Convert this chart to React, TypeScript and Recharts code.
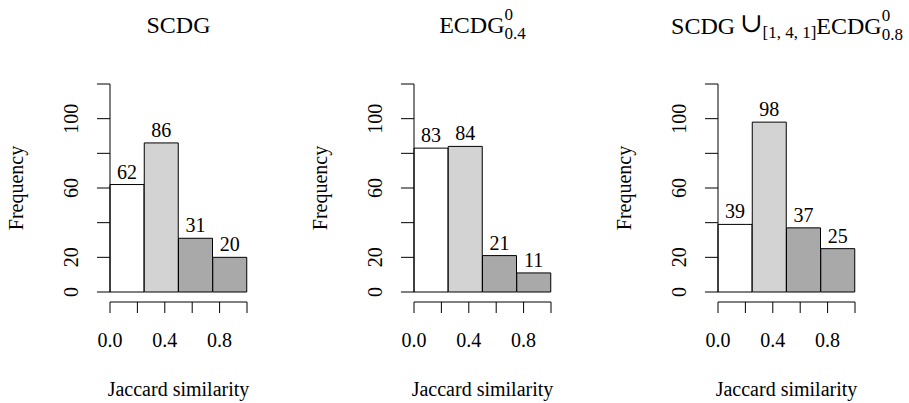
import React from "react";
import { Bar, BarChart, LabelList, XAxis, YAxis } from "recharts";

const binMids = [0.125, 0.375, 0.625, 0.875];
const scdg = [62, 86, 31, 20];
const ecdg = [83, 84, 21, 11];
const union = [39, 98, 37, 25];
const binColors = ["#FFFFFF", "#D3D3D3", "#A9A9A9", "#A9A9A9"];

const yTicks = [0, 20, 40, 60, 80, 100, 120];
const yLabelled = [0, 20, 60, 100];
const xTicks = [0, 0.2, 0.4, 0.6, 0.8, 1];
const xLabelled = [0, 0.4, 0.8];

const FONT = "'Liberation Serif', 'DejaVu Serif', serif";
const PANEL_W = 303;
const PANEL_H = 403;

function YTick(props: any) {
  const { x, y, payload } = props;
  if (!yLabelled.includes(payload.value)) return null;
  const tx = x - 17;
  return (
    <text
      x={tx}
      y={y}
      transform={`rotate(-90 ${tx} ${y})`}
      textAnchor="middle"
      fontFamily={FONT}
      fontSize={20}
      fill="#000"
    >
      {payload.value}
    </text>
  );
}

function XTick(props: any) {
  const { x, y, payload } = props;
  if (!xLabelled.some((v) => Math.abs(v - payload.value) < 1e-9)) return null;
  return (
    <text x={x} y={y + 32} textAnchor="middle" fontFamily={FONT} fontSize={20} fill="#000">
      {payload.value.toFixed(1)}
    </text>
  );
}

function Panel({ values, left }: { values: number[]; left: number }) {
  const data = binMids.map((mid, i) => ({ mid, count: values[i], fill: binColors[i] }));
  return (
    <div style={{ position: "absolute", left, top: 0 }}>
      <BarChart
        width={PANEL_W}
        height={PANEL_H}
        data={data}
        margin={{ top: 84, right: 56, bottom: 0, left: 0 }}
        barCategoryGap={0}
        barGap={0}
      >
        {/* empty axes used only as spacers so the axes sit off the bars, R style */}
        <XAxis xAxisId="a_pad" height={10} tick={false} axisLine={false} tickLine={false} />
        <XAxis
          xAxisId="num"
          dataKey="mid"
          type="number"
          domain={[0, 1]}
          ticks={xTicks}
          height={101}
          tickSize={11}
          tick={<XTick />}
          axisLine={{ stroke: "#000" }}
          tickLine={{ stroke: "#000" }}
          label={{
            content: ({ viewBox }: any) => (
              <text
                x={viewBox.x + viewBox.width / 2}
                y={viewBox.y + 94}
                textAnchor="middle"
                fontFamily={FONT}
                fontSize={20}
                fill="#000"
              >
                Jaccard similarity
              </text>
            ),
          }}
        />
        <YAxis yAxisId="pad" width={6} tick={false} axisLine={false} tickLine={false} />
        <YAxis
          yAxisId="main"
          width={104}
          domain={[0, 120]}
          ticks={yTicks}
          tickSize={13}
          tick={<YTick />}
          axisLine={{ stroke: "#000" }}
          tickLine={{ stroke: "#000" }}
          label={{
            content: ({ viewBox }: any) => {
              const cx = 23;
              const cy = viewBox.y + viewBox.height / 2;
              return (
                <text
                  x={cx}
                  y={cy}
                  transform={`rotate(-90 ${cx} ${cy})`}
                  textAnchor="middle"
                  fontFamily={FONT}
                  fontSize={20}
                  fill="#000"
                >
                  Frequency
                </text>
              );
            },
          }}
        />
        <Bar
          xAxisId="num"
          yAxisId="main"
          dataKey="count"
          stroke="#000"
          strokeWidth={1}
          isAnimationActive={false}
        >
          <LabelList
            dataKey="count"
            position="top"
            offset={6}
            fontFamily={FONT}
            fontSize={20}
            fill="#000"
          />
        </Bar>
      </BarChart>
    </div>
  );
}

function Scripts({ sup, sub }: { sup: string; sub: string }) {
  return (
    <span
      style={{
        display: "inline-flex",
        flexDirection: "column",
        fontSize: 17,
        lineHeight: "19px",
        position: "relative",
        top: -13,
        textAlign: "left",
      }}
    >
      <span>{sup}</span>
      <span>{sub}</span>
    </span>
  );
}

function Title({ cx, children }: { cx: number; children: React.ReactNode }) {
  return (
    <div
      style={{
        position: "absolute",
        left: cx - 150,
        width: 300,
        top: 13,
        textAlign: "center",
        fontFamily: FONT,
        fontSize: 24,
        lineHeight: "24px",
        whiteSpace: "nowrap",
        color: "#000",
      }}
    >
      {children}
    </div>
  );
}

export default function App() {
  return (
    <div
      style={{
        position: "fixed",
        left: 0,
        top: 0,
        width: 909,
        height: 403,
        background: "#fff",
        overflow: "hidden",
      }}
    >
      <Panel values={scdg} left={0} />
      <Panel values={ecdg} left={304} />
      <Panel values={union} left={608} />
      <Title cx={178.5}>SCDG</Title>
      <Title cx={482.5}>
        ECDG
        <Scripts sup="0" sub="0.4" />
      </Title>
      <Title cx={787}>
        SCDG{"\u2009"}
        <span
          style={{
            fontFamily: "'DejaVu Serif', serif",
            fontSize: 27,
            position: "relative",
            top: -2,
          }}
        >
          {"\u222A"}
        </span>
        <span style={{ fontSize: 17, position: "relative", top: 4 }}>[1, 4, 1]</span>
        ECDG
        <Scripts sup="0" sub="0.8" />
      </Title>
    </div>
  );
}
